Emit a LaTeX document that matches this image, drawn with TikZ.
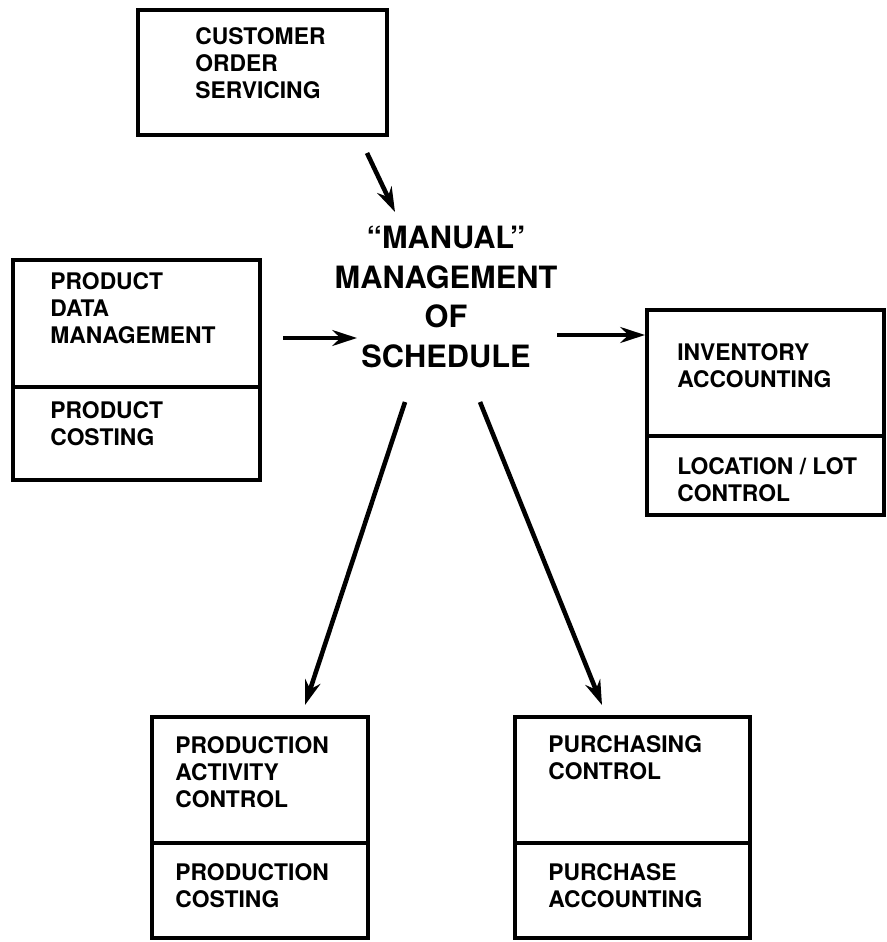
\documentclass[tikz,border=0pt]{standalone}
\usepackage{fontspec}
\setmainfont{TeX Gyre Heros}
\usetikzlibrary{arrows.meta}

\begin{document}
\begin{tikzpicture}[x=0.02cm, y=-0.02cm, >={Stealth[length=14pt,width=9pt]},
  box/.style={line width=2pt},
  lbl/.style={anchor=west, align=left, inner sep=0pt, font=\fontsize{13}{15.5}\selectfont\bfseries},
  flow/.style={->, line width=2.6pt}]
  \useasboundingbox (0,0) rectangle (886,942);

  % customer order servicing
  \draw[box] (138,10) rectangle (387,135);
  \node[lbl] (cos) at (195,63) {CUSTOMER\\ORDER\\SERVICING};

  % product data
  \draw[box] (13,260) rectangle (260,480);
  \draw[box] (13,387) -- (260,387);
  \node[lbl] (pdm) at (50,308) {PRODUCT\\DATA\\MANAGEMENT};
  \node[lbl] (pc) at (50,424) {PRODUCT\\COSTING};

  % inventory
  \draw[box] (647,310) rectangle (884,515);
  \draw[box] (647,436) -- (884,436);
  \node[lbl] (ia) at (677,366) {INVENTORY\\ACCOUNTING};
  \node[lbl] (llc) at (677,480) {LOCATION / LOT\\CONTROL};

  % production
  \draw[box] (152,717) rectangle (368,938);
  \draw[box] (152,843) -- (368,843);
  \node[lbl] (pac) at (175,772) {PRODUCTION\\ACTIVITY\\CONTROL};
  \node[lbl] (pcs) at (175,886) {PRODUCTION\\COSTING};

  % purchasing
  \draw[box] (515,717) rectangle (750,938);
  \draw[box] (515,843) -- (750,843);
  \node[lbl] (pur) at (548,758) {PURCHASING\\CONTROL};
  \node[lbl] (pa) at (548,886) {PURCHASE\\ACCOUNTING};

  % centre
  \node[align=center, inner sep=0pt, font=\fontsize{17.5}{22.6}\selectfont\bfseries] (mms) at (446,297)
    {``MANUAL''\\MANAGEMENT\\OF\hspace{12pt}\\SCHEDULE};

  % arrows
  \coordinate (cos-out) at (367,153);
  \coordinate (mms-n) at (395,212);
  \coordinate (pdm-out) at (283,338);
  \coordinate (mms-w) at (357,338);
  \coordinate (mms-e) at (557,335);
  \coordinate (ia-in) at (645,335);
  \coordinate (mms-sw) at (405,402);
  \coordinate (pac-in) at (305,705);
  \coordinate (mms-se) at (480,402);
  \coordinate (pur-in) at (602,705);
  \draw[flow] (cos-out) -- (mms-n);
  \draw[flow] (pdm-out) -- (mms-w);
  \draw[flow] (mms-e) -- (ia-in);
  \draw[flow] (mms-sw) -- (pac-in);
  \draw[flow] (mms-se) -- (pur-in);
\end{tikzpicture}
\end{document}
